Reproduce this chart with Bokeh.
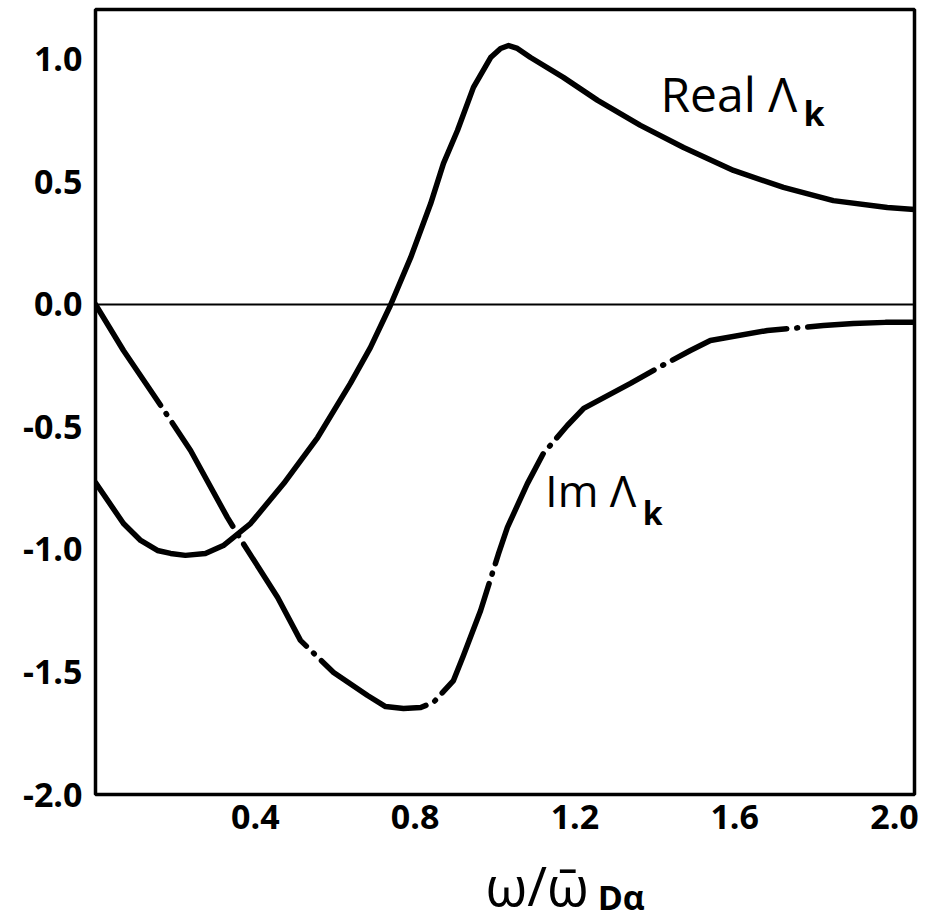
from bokeh.plotting import figure
from bokeh.layouts import column
from bokeh.models import Label, FixedTicker, Span, Range1d
from bokeh.embed import file_html
from bokeh.resources import INLINE

# Real part of Lambda_k
real_x = [0.000, 0.070, 0.113, 0.155, 0.188, 0.225, 0.275, 0.320, 0.388, 0.471, 0.556, 0.638, 0.688,
          0.738, 0.789, 0.839, 0.871, 0.906, 0.946, 0.989, 1.014, 1.034, 1.056, 1.089, 1.171,
          1.257, 1.364, 1.472, 1.597, 1.722, 1.847, 1.982, 2.050]
real_y = [-0.727, -0.894, -0.963, -1.004, -1.016, -1.024, -1.016, -0.984, -0.894, -0.731, -0.543, -0.322, -0.176,
          -0.004, 0.192, 0.412, 0.576, 0.710, 0.886, 1.008, 1.045, 1.057, 1.045, 1.008, 0.927,
          0.833, 0.731, 0.641, 0.547, 0.478, 0.424, 0.396, 0.388]

# Imaginary part of Lambda_k
im_x = [0.000, 0.070, 0.143, 0.175, 0.238, 0.330, 0.370, 0.456, 0.513, 0.596,
        0.681, 0.726, 0.771, 0.814, 0.846, 0.896, 0.921, 0.964, 1.009, 1.031, 1.081, 1.121,
        1.181, 1.222, 1.339, 1.414, 1.489, 1.539, 1.682, 1.822, 1.897, 1.977, 2.050]
im_y = [0.000, -0.188, -0.363, -0.441, -0.596, -0.869, -0.976, -1.196, -1.371, -1.502,
        -1.596, -1.641, -1.649, -1.645, -1.624, -1.535, -1.433, -1.249, -1.016, -0.910, -0.731, -0.608,
        -0.494, -0.424, -0.322, -0.253, -0.188, -0.147, -0.106, -0.086, -0.078, -0.073, -0.073]

x_ticks = [0.4, 0.8, 1.2, 1.6, 2.0]
x_tick_labels = ["0.4", "0.8", "1.2", "1.6", "2.0"]
y_ticks = [-2.0, -1.5, -1.0, -0.5, 0.0, 0.5, 1.0]
y_tick_labels = ["-2.0", "-1.5", "-1.0", "-0.5", "0.0", "0.5", "1.0"]

FONT = "Open Sans"

p = figure(width=925, height=844, x_range=(0, 2.05), y_range=(-2.0, 1.204),
           output_backend="svg", toolbar_location=None,
           min_border_left=95, min_border_right=11, min_border_top=9, min_border_bottom=50)

p.background_fill_color = "white"
p.border_fill_color = "white"
p.grid.visible = False
p.outline_line_color = "black"
p.outline_line_width = 3.5

for ax in (p.xaxis, p.yaxis):
    ax.axis_line_color = None
    ax.major_tick_line_color = None
    ax.minor_tick_line_color = None
    ax.major_label_text_font = FONT
    ax.major_label_text_font_style = "bold"
    ax.major_label_text_font_size = "34px"
    ax.major_label_text_color = "black"

p.xaxis.ticker = FixedTicker(ticks=x_ticks)
p.xaxis.major_label_overrides = {t: l for t, l in zip(x_ticks, x_tick_labels)}
p.xaxis.major_label_standoff = 4
p.yaxis.ticker = FixedTicker(ticks=y_ticks)
p.yaxis.major_label_overrides = {t: l for t, l in zip(y_ticks, y_tick_labels)}
p.yaxis.major_label_standoff = 7

p.add_layout(Span(location=0, dimension="width", line_color="black", line_width=2.2))

p.line(real_x, real_y, line_color="black", line_width=5.5, line_join="round", line_cap="round")
p.line(im_x, im_y, line_color="black", line_width=5.5, line_join="round", line_cap="round",
       line_dash="120 10 1 10")

p.add_layout(Label(x=1.414, y=0.861, text="Real Λ", text_font=FONT, text_font_size="48px",
                   text_color="black", text_baseline="alphabetic"))
p.add_layout(Label(x=1.772, y=0.78, text="k", text_font=FONT, text_font_size="34px",
                   text_font_style="bold", text_color="black", text_baseline="alphabetic"))
p.add_layout(Label(x=1.126, y=-0.759, text="Im Λ", text_font=FONT, text_font_size="44px",
                   text_color="black", text_baseline="alphabetic"))
p.add_layout(Label(x=1.37, y=-0.849, text="k", text_font=FONT, text_font_size="32px",
                   text_font_style="bold", text_color="black", text_baseline="alphabetic"))

# x-axis title strip (frame aligned with the main plot): omega / omega-bar, subscript D alpha
t = figure(width=925, height=78, x_range=Range1d(0, 2.05), y_range=Range1d(78, 0),
           output_backend="svg", toolbar_location=None, x_axis_type=None, y_axis_type=None,
           min_border_left=95, min_border_right=11, min_border_top=0, min_border_bottom=0)
t.grid.visible = False
t.outline_line_color = None
t.background_fill_color = "white"
t.border_fill_color = "white"
t.add_layout(Label(x=0.976, y=40, text="ω/ω̄", text_font=FONT, text_font_size="54px",
                   text_color="black", text_baseline="alphabetic"))
t.add_layout(Label(x=1.257, y=52, text="Dα", text_font=FONT, text_font_size="34px",
                   text_font_style="bold", text_color="black", text_baseline="alphabetic"))

layout = column(p, t, spacing=0)
open("out.html", "w").write(file_html(layout, INLINE))
